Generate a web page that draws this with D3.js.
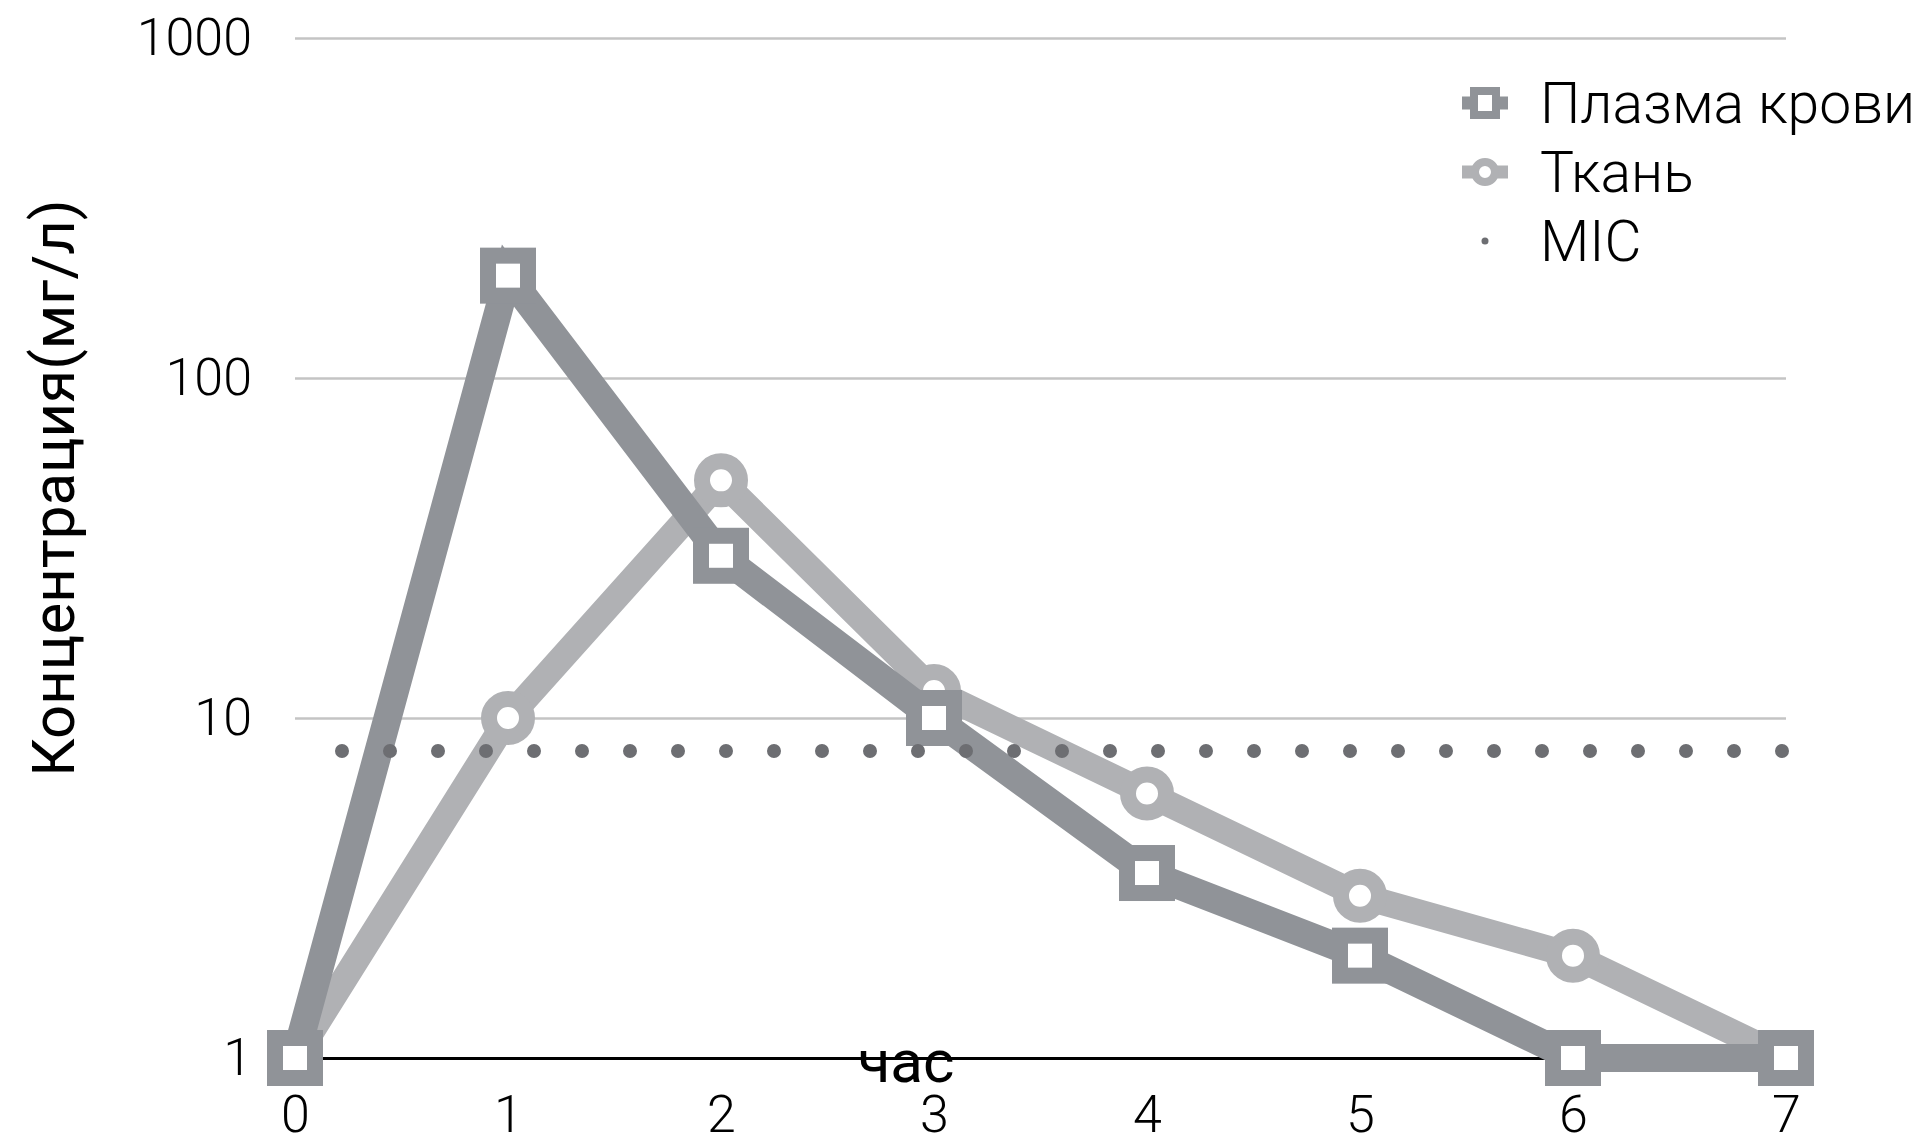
<!DOCTYPE html>
<html>
<head>
<meta charset="utf-8">
<script src="https://cdn.jsdelivr.net/npm/d3@7"></script>
<style>
  body { margin: 0; background: #fff; }
  svg { display: block; }
</style>
</head>
<body>
<script>
// данные
const hours = [0, 1, 2, 3, 4, 5, 6, 7]
const plasma = [1, 200, 30, 10, 3.5, 2, 1, 1]
const tissue = [1, 10, 50, 12, 6, 3, 2, 1]
const mic = [8, 8]
const yTicks = [1, 10, 100, 1000]
const legendNames = ["Плазма крови", "Ткань", "MIC"]

const W = 1927, H = 1137

const svg = d3.select("body")
    .append("svg")
    .attr("width", W)
    .attr("height", H)

const x = d3.scaleLinear().domain([0, 7]).range([295, 1786])
const y = d3.scaleLog().domain([1, 1000]).range([1058, 38])

// сетка
const grid = svg.append("g")
    .attr("transform", "translate(" + x(0) + ",0)")
    .call(d3.axisLeft(y).tickValues(yTicks).tickSize(-(x(7) - x(0))).tickFormat(""))
grid.select(".domain").remove()
grid.selectAll("line")
    .attr("stroke", d => d === 1 ? "#000" : "#c4c4c4")
    .attr("stroke-width", d => d === 1 ? 3 : 2.5)

// подписи оси Y
const yAxis = svg.append("g")
    .attr("transform", "translate(" + x(0) + ",0)")
    .call(d3.axisLeft(y).tickValues(yTicks).tickSize(0).tickPadding(43).tickFormat(d3.format("d")))
yAxis.select(".domain").remove()
yAxis.selectAll("text")
    .attr("font-family", "Roboto")
    .attr("font-weight", 300)
    .attr("font-size", 52)
    .attr("fill", "#000")

// подписи оси X
const xAxis = svg.append("g")
    .attr("transform", "translate(0," + y(1) + ")")
    .call(d3.axisBottom(x).tickValues(hours).tickSize(0).tickPadding(37).tickFormat(d3.format("d")))
xAxis.select(".domain").remove()
xAxis.selectAll("text")
    .attr("font-family", "Roboto")
    .attr("font-weight", 300)
    .attr("font-size", 52)
    .attr("fill", "#000")

// названия осей
svg.append("text")
    .attr("transform", "translate(74,488) rotate(-90)")
    .attr("text-anchor", "middle")
    .attr("font-family", "Roboto")
    .attr("font-size", 60)
    .text("Концентрация(мг/л)")

const line = d3.line()
    .x((d, i) => x(hours[i]))
    .y(d => y(d))

// ткань
svg.append("path")
    .datum(tissue)
    .attr("d", line)
    .attr("fill", "none")
    .attr("stroke", "#b0b1b4")
    .attr("stroke-width", 26)

svg.selectAll(".tissue-pt")
    .data(tissue)
    .enter()
    .append("circle")
    .attr("class", "tissue-pt")
    .attr("cx", (d, i) => x(hours[i]))
    .attr("cy", d => y(d))
    .attr("r", 19)
    .attr("fill", "#fff")
    .attr("stroke", "#b0b1b4")
    .attr("stroke-width", 16)

// плазма
svg.append("path")
    .datum(plasma)
    .attr("d", line)
    .attr("fill", "none")
    .attr("stroke", "#909398")
    .attr("stroke-width", 28)

svg.selectAll(".plasma-pt")
    .data(plasma)
    .enter()
    .append("rect")
    .attr("class", "plasma-pt")
    .attr("x", (d, i) => x(hours[i]) - 20)
    .attr("y", d => y(d) - 20)
    .attr("width", 40)
    .attr("height", 40)
    .attr("fill", "#fff")
    .attr("stroke", "#909398")
    .attr("stroke-width", 16)

// MIC
svg.append("line")
    .attr("x1", x(0))
    .attr("x2", x(7))
    .attr("y1", y(mic[0]))
    .attr("y2", y(mic[1]))
    .attr("stroke", "#6d6e72")
    .attr("stroke-width", 14)
    .attr("stroke-linecap", "round")
    .attr("stroke-dasharray", "0 48")
    .attr("stroke-dashoffset", -47)

svg.append("text")
    .attr("x", 906)
    .attr("y", 1082)
    .attr("text-anchor", "middle")
    .attr("font-family", "Roboto")
    .attr("font-size", 60)
    .text("час")

// легенда
const lg = svg.append("g").attr("transform", "translate(1485,103)")
const rowH = 69

lg.append("line").attr("x1", -23).attr("x2", 23).attr("y1", 0).attr("y2", 0)
    .attr("stroke", "#909398").attr("stroke-width", 13)
lg.append("rect").attr("x", -11).attr("y", -12).attr("width", 22).attr("height", 24)
    .attr("fill", "#fff").attr("stroke", "#909398").attr("stroke-width", 8)

lg.append("line").attr("x1", -23).attr("x2", 23).attr("y1", rowH).attr("y2", rowH)
    .attr("stroke", "#b0b1b4").attr("stroke-width", 13)
lg.append("circle").attr("cx", 0).attr("cy", rowH).attr("r", 10)
    .attr("fill", "#fff").attr("stroke", "#b0b1b4").attr("stroke-width", 8)

lg.append("circle").attr("cx", 0).attr("cy", rowH * 2).attr("r", 3.5)
    .attr("fill", "#6d6e72")

lg.selectAll(".lg-text")
    .data(legendNames)
    .enter()
    .append("text")
    .attr("class", "lg-text")
    .attr("x", 55)
    .attr("y", (d, i) => i * rowH + 20)
    .attr("font-family", "Roboto")
    .attr("font-weight", 300)
    .attr("font-size", 57)
    .text(d => d)
</script>
</body>
</html>
